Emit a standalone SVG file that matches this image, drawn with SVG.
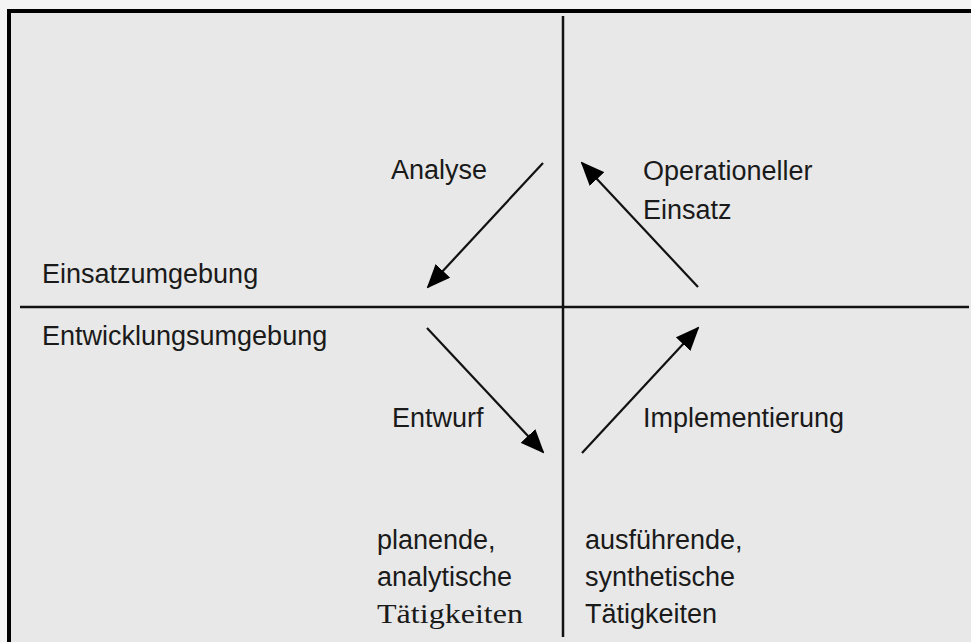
<svg xmlns="http://www.w3.org/2000/svg" width="971" height="642" viewBox="0 0 971 642">
  <style>
    .lbl { font-family: "Liberation Sans", Arial, sans-serif; font-size: 27px; fill: #1a1a1a; }
    .serif { font-family: "Liberation Serif", "Times New Roman", serif; font-size: 28px; fill: #1a1a1a; }
    .frame { stroke: #000; stroke-width: 4; fill: none; }
    .divider { stroke: #111; stroke-width: 2.5; fill: none; }
    .flow { stroke: #111; stroke-width: 2.2; fill: none; marker-end: url(#head); }
  </style>
  <defs>
    <marker id="head" viewBox="0 0 24 20" refX="22" refY="10" markerWidth="24" markerHeight="20" markerUnits="userSpaceOnUse" orient="auto">
      <path d="M0,0 L24,10 L0,20 Z" fill="#000"/>
    </marker>
  </defs>

  <!-- paper and panel background -->
  <rect x="0" y="0" width="971" height="642" fill="#f4f4f4"/>
  <rect x="9" y="11" width="962" height="631" fill="#e8e8e8"/>

  <!-- outer frame (top and left edges) -->
  <g id="frame">
    <line class="frame" x1="7" y1="11" x2="971" y2="11"/>
    <line class="frame" x1="9" y1="9" x2="9" y2="642"/>
  </g>

  <!-- quadrant dividers -->
  <g id="dividers">
    <line class="divider" x1="563" y1="16" x2="563" y2="637"/>
    <line class="divider" x1="20" y1="307" x2="969" y2="307"/>
  </g>

  <!-- phase arrows -->
  <g id="connectors">
    <path class="flow" d="M543,163 L428,287"/>
    <path class="flow" d="M698,287 L582,163"/>
    <path class="flow" d="M427,328 L543,452"/>
    <path class="flow" d="M582,453 L698,328"/>
  </g>

  <g id="env-use"><text class="lbl" x="42" y="283">Einsatzumgebung</text></g>
  <g id="env-dev"><text class="lbl" x="42" y="345">Entwicklungsumgebung</text></g>

  <g id="analyse"><text class="lbl" x="391" y="179">Analyse</text></g>
  <g id="operation">
    <text class="lbl" x="643" y="180">Operationeller</text>
    <text class="lbl" x="643" y="219">Einsatz</text>
  </g>
  <g id="entwurf"><text class="lbl" x="392" y="427">Entwurf</text></g>
  <g id="implementierung"><text class="lbl" x="643" y="427">Implementierung</text></g>

  <g id="planning">
    <text class="lbl" x="377" y="549">planende,</text>
    <text class="lbl" x="377" y="586">analytische</text>
    <text class="serif" x="377" y="623" textLength="146" lengthAdjust="spacingAndGlyphs">Tätigkeiten</text>
  </g>
  <g id="executing">
    <text class="lbl" x="585" y="549">ausführende,</text>
    <text class="lbl" x="585" y="586">synthetische</text>
    <text class="lbl" x="585" y="623">Tätigkeiten</text>
  </g>
</svg>
